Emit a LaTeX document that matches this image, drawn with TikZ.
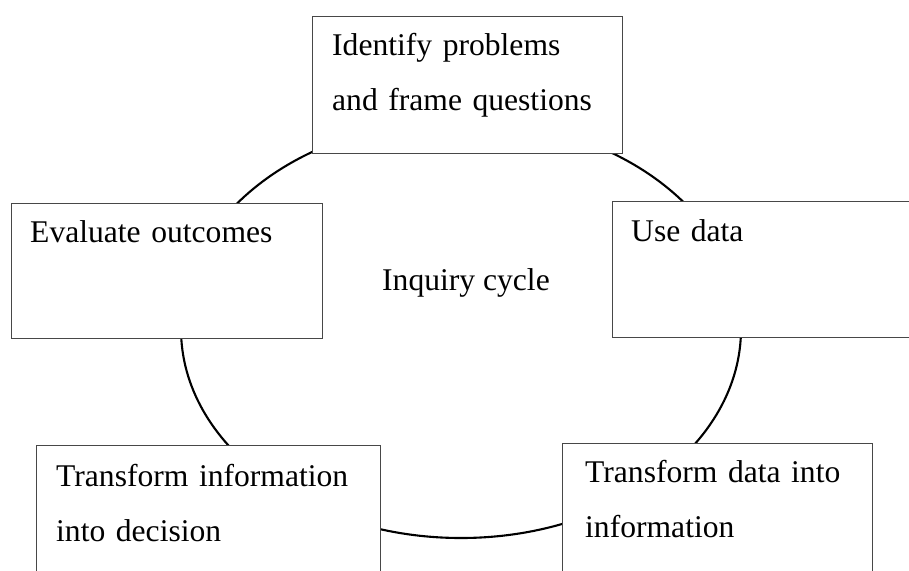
\documentclass[tikz,border=0pt]{standalone}
\usepackage{fontspec}
\setmainfont{Liberation Serif}
\begin{document}
\begin{tikzpicture}[x=1pt,y=-1pt,
  stagebox/.style={draw=black!72, line width=1.1pt, fill=white, rectangle,
    inner sep=0pt, anchor=north west},
  stagetext/.style={anchor=base west, inner sep=0pt, text width=300pt, align=left,
    font=\fontsize{31.6}{55}\selectfont}]
  \clip (0,0) rectangle (909,570);
  \fill[white] (0,0) rectangle (909,570);

  % the cycle itself
  \draw[line width=2.1pt] (461,329) ellipse [x radius=280pt, y radius=209pt];
  \node[inner sep=0pt, anchor=base west, font=\fontsize{31.6}{38}\selectfont]
    (title) at (382,290) {Inquiry cycle};

  % stage boxes, laid over the cycle
  \node[stagebox, minimum width=310pt, minimum height=137pt] (identify) at (312,16) {};
  \node[stagebox, minimum width=311pt, minimum height=135pt] (evaluate) at (11,203) {};
  \node[stagebox, minimum width=310pt, minimum height=136pt] (usedata) at (612,201) {};
  \node[stagebox, minimum width=344pt, minimum height=140pt] (decide) at (36,445) {};
  \node[stagebox, minimum width=310pt, minimum height=140pt] (inform) at (562,443) {};

  % stage labels
  \node[stagetext] (identifyT) at ([shift={(20pt,-39pt)}]identify.north west)
    {Identify problems\\and frame questions};
  \node[stagetext] (evaluateT) at ([shift={(19pt,-39pt)}]evaluate.north west)
    {Evaluate outcomes};
  \node[stagetext] (usedataT) at ([shift={(19pt,-40pt)}]usedata.north west)
    {Use data};
  \node[stagetext] (decideT) at ([shift={(20pt,-41pt)}]decide.north west)
    {Transform information\\into decision};
  \node[stagetext] (informT) at ([shift={(23pt,-39pt)}]inform.north west)
    {Transform data into\\information};
\end{tikzpicture}
\end{document}
